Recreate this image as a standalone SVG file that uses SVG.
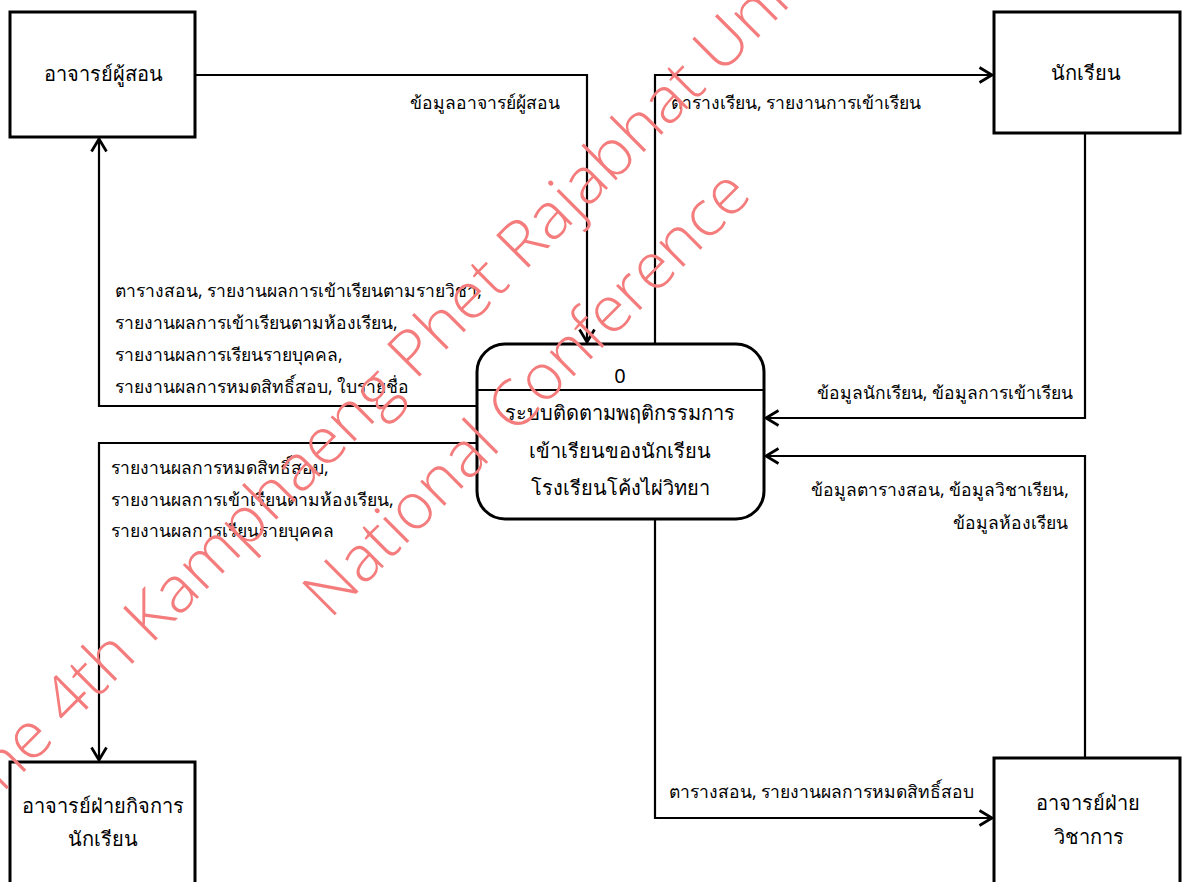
<svg xmlns="http://www.w3.org/2000/svg" width="1184" height="882" viewBox="0 0 1184 882">
<style>
.box{fill:#fff;stroke:#000;stroke-width:3}
.proc{fill:#fff;stroke:#000;stroke-width:3}
.conn{fill:none;stroke:#000;stroke-width:2.2}
.t{font-family:"Noto Sans","DejaVu Sans",sans-serif;fill:#000;dominant-baseline:central}
.bt{font-size:20px;text-anchor:middle}
.lt{font-size:17.5px}
.e{text-anchor:end}
.wm{font-family:"Open Sans","Liberation Sans",sans-serif;font-weight:300;font-size:64px;fill:#F47C7C}
</style>
<defs>
<marker id="arr" markerUnits="userSpaceOnUse" markerWidth="20" markerHeight="20" refX="0" refY="0" viewBox="-12 -8 14 16" orient="auto" overflow="visible">
<path d="M-10,-6 L0,0 L-10,6" fill="none" stroke="#000" stroke-width="2.2"/>
</marker>
</defs>
<rect width="1184" height="882" fill="#fff"/>
<g id="connectors">
<path class="conn" d="M195,75 H587 V342" marker-end="url(#arr)"/>
<path class="conn" d="M655,344 V75 H992" marker-end="url(#arr)"/>
<path class="conn" d="M1085,133 V418 H766" marker-end="url(#arr)"/>
<path class="conn" d="M1085,758 V456 H766" marker-end="url(#arr)"/>
<path class="conn" d="M655,519 V818 H992" marker-end="url(#arr)"/>
<path class="conn" d="M477,406 H99 V139" marker-end="url(#arr)"/>
<path class="conn" d="M477,443 H99 V760" marker-end="url(#arr)"/>
<text class="t lt e" x="560" y="102">ข้อมูลอาจารย์ผู้สอน</text>
<text class="t lt" x="671" y="102">ตารางเรียน, รายงานการเข้าเรียน</text>
<text class="t lt" x="115" y="290">ตารางสอน, รายงานผลการเข้าเรียนตามรายวิชา,</text>
<text class="t lt" x="115" y="322">รายงานผลการเข้าเรียนตามห้องเรียน,</text>
<text class="t lt" x="115" y="354">รายงานผลการเรียนรายบุคคล,</text>
<text class="t lt" x="115" y="386">รายงานผลการหมดสิทธิ์สอบ, ใบรายชื่อ</text>
<text class="t lt" x="111" y="467">รายงานผลการหมดสิทธิ์สอบ,</text>
<text class="t lt" x="111" y="499">รายงานผลการเข้าเรียนตามห้องเรียน,</text>
<text class="t lt" x="111" y="530">รายงานผลการเรียนรายบุคคล</text>
<text class="t lt e" x="1073" y="392">ข้อมูลนักเรียน, ข้อมูลการเข้าเรียน</text>
<text class="t lt e" x="1069" y="489">ข้อมูลตารางสอน, ข้อมูลวิชาเรียน,</text>
<text class="t lt e" x="1068" y="522">ข้อมูลห้องเรียน</text>
<text class="t lt" x="669" y="791">ตารางสอน, รายงานผลการหมดสิทธิ์สอบ</text>
</g>
<g id="teacher">
<rect class="box" x="10" y="12" width="185" height="125"/>
<text class="t bt" x="103" y="73">อาจารย์ผู้สอน</text>
</g>
<g id="student">
<rect class="box" x="994" y="12" width="186" height="121"/>
<text class="t bt" x="1086" y="72">นักเรียน</text>
</g>
<g id="affairs">
<rect class="box" x="10" y="762" width="185" height="130"/>
<text class="t bt" x="103" y="805">อาจารย์ฝ่ายกิจการ</text>
<text class="t bt" x="103" y="838">นักเรียน</text>
</g>
<g id="academic">
<rect class="box" x="994" y="758" width="186" height="134"/>
<text class="t bt" x="1088" y="802">อาจารย์ฝ่าย</text>
<text class="t bt" x="1089" y="836">วิชาการ</text>
</g>
<g id="process">
<rect class="proc" x="477" y="344" width="287" height="175" rx="28" ry="28"/>
<line x1="477" y1="390" x2="764" y2="390" stroke="#000" stroke-width="2.2"/>
<text class="t bt" x="620" y="375">0</text>
<text class="t bt" x="620" y="412">ระบบติดตามพฤติกรรมการ</text>
<text class="t bt" x="620" y="450">เข้าเรียนของนักเรียน</text>
<text class="t bt" x="620" y="487">โรงเรียนโค้งไผ่วิทยา</text>
</g>
<g id="watermark">
<text class="wm" x="-22" y="818" transform="rotate(-45 -22 818)" textLength="1343" lengthAdjust="spacingAndGlyphs">The 4th Kamphaeng Phet Rajabhat University</text>
<text class="wm" x="330" y="620" transform="rotate(-45 330 620)" textLength="599" lengthAdjust="spacingAndGlyphs">National Conference</text>
</g>
</svg>
